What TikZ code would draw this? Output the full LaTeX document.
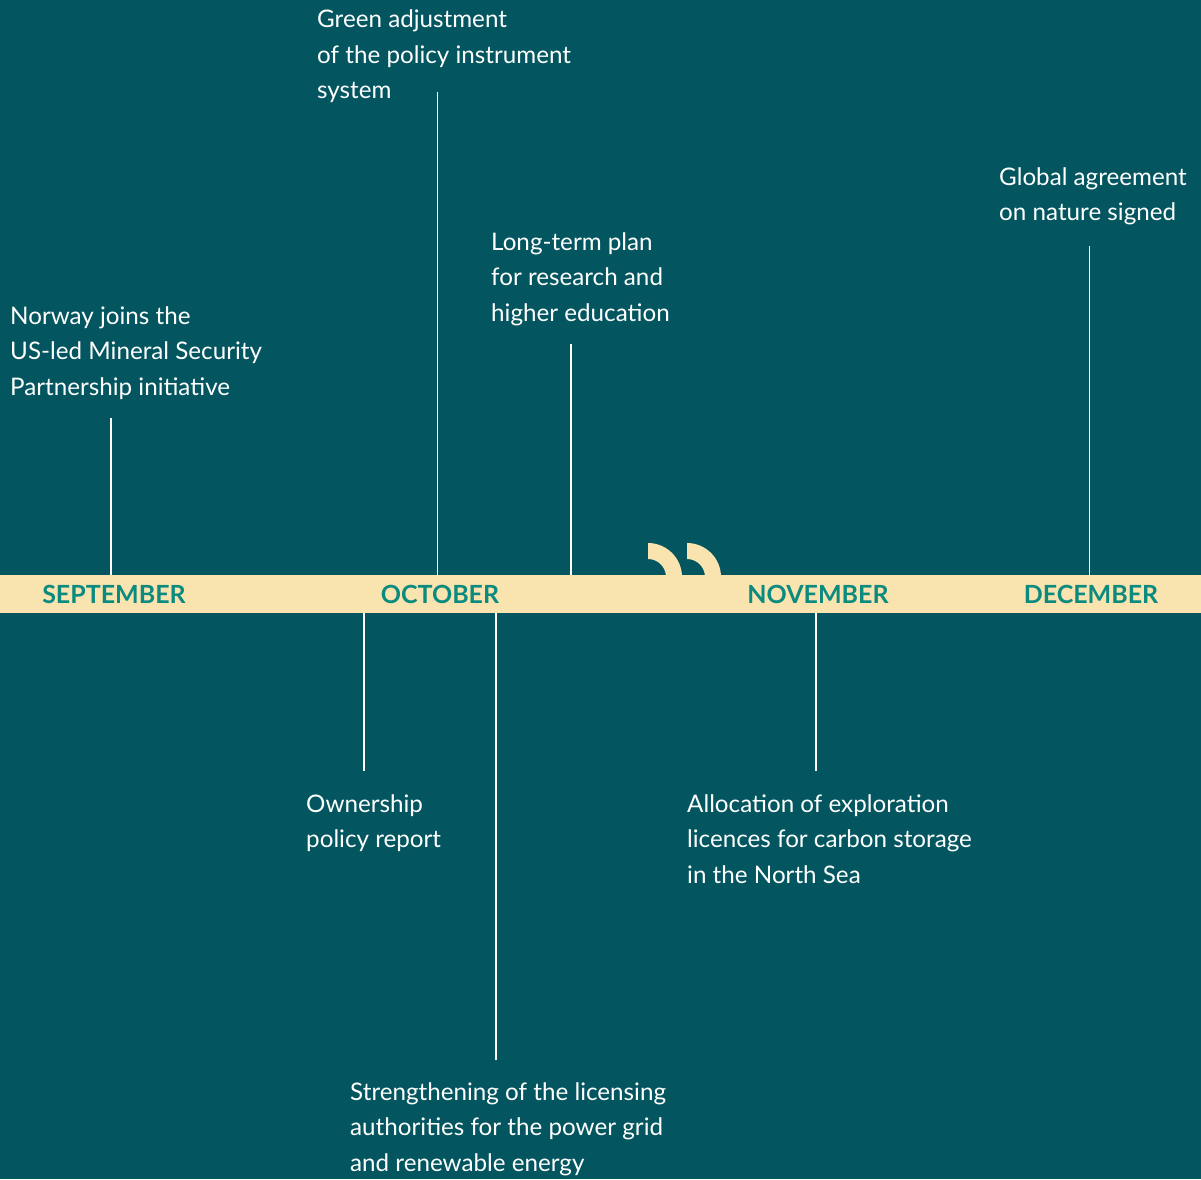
\documentclass[tikz,border=0pt]{standalone}
\usepackage{fontspec}
\setmainfont{Lato}
\definecolor{bg}{HTML}{03565F}
\definecolor{band}{HTML}{F9E3AE}
\definecolor{month}{HTML}{0B8A7F}
\begin{document}
\begin{tikzpicture}[x=1pt,y=-1pt,
  lbl/.style={text=white,align=left,inner sep=0pt,anchor=base west,
    font=\fontsize{24.2}{35.5}\selectfont},
  mon/.style={text=month,inner sep=0pt,anchor=base,
    font=\fontsize{25}{28}\selectfont\bfseries},
  tick/.style={draw=white,line width=1.1pt}]
\useasboundingbox (0,0) rectangle (1201,1179);
\fill[bg] (0,0) rectangle (1201,1179);
% quote marks
\fill[band] (648,543) arc[start angle=-90,end angle=0,radius=34] -- (666,577)
  arc[start angle=0,end angle=-90,radius=18] -- cycle;
\fill[band] (687,543) arc[start angle=-90,end angle=0,radius=34] -- (705,577)
  arc[start angle=0,end angle=-90,radius=18] -- cycle;
% band
\fill[band] (0,575) rectangle (1201,613);
\node[mon] (sep) at (114,603) {SEPTEMBER};
\node[mon] (oct) at (440,603) {OCTOBER};
\node[mon] (nov) at (818,603) {NOVEMBER};
\node[mon] (dec) at (1091,603) {DECEMBER};
% labels (anchor at baseline of last line)
\node[lbl] (norway) at (10,395) {Norway joins the\\US-led Mineral Security\\Partnership initiative};
\node[lbl] (green) at (317,98.5) {Green adjustment\\of the policy instrument\\system};
\node[lbl] (longterm) at (491,321) {Long-term plan\\for research and\\higher education};
\node[lbl] (global) at (999,220.5) {Global agreement\\on nature signed};
\node[lbl] (owner) at (306,847.5) {Ownership\\policy report};
\node[lbl] (alloc) at (687,883) {Allocation of exploration\\licences for carbon storage\\in the North Sea};
\node[lbl] (strength) at (350,1171) {Strengthening of the licensing\\authorities for the power grid\\and renewable energy};
% tick coordinates
\coordinate (a1) at (111,418); \coordinate (a2) at (111,575);
\coordinate (b1) at (437.5,92); \coordinate (b2) at (437.5,575);
\coordinate (c1) at (571,344); \coordinate (c2) at (571,575);
\coordinate (d1) at (1089.5,246); \coordinate (d2) at (1089.5,575);
\coordinate (e1) at (364,613); \coordinate (e2) at (364,771);
\coordinate (f1) at (496,613); \coordinate (f2) at (496,1060);
\coordinate (g1) at (816,613); \coordinate (g2) at (816,771);
\draw[tick] (a1) -- (a2);
\draw[tick] (b1) -- (b2);
\draw[tick] (c1) -- (c2);
\draw[tick] (d1) -- (d2);
\draw[tick] (e1) -- (e2);
\draw[tick] (f1) -- (f2);
\draw[tick] (g1) -- (g2);
\end{tikzpicture}
\end{document}
